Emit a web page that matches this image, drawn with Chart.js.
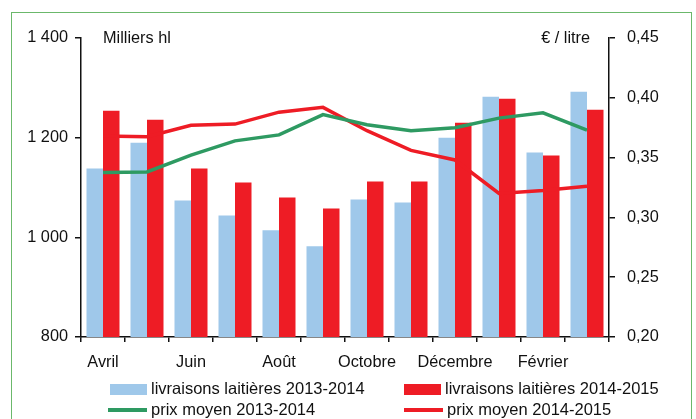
<!DOCTYPE html>
<html>
<head>
<meta charset="utf-8">
<script src="https://cdn.jsdelivr.net/npm/chart.js@4"></script>
<style>
  html, body { margin: 0; padding: 0; background: #fff; }
  #wrap { position: relative; width: 696px; height: 419px; overflow: hidden; font-family: "Liberation Sans", Arial, sans-serif; }
  #frame { position: absolute; left: 11px; top: 12px; width: 681px; height: 430px; border: 1.5px solid #6bb86b; box-sizing: border-box; }
  #chart { position: absolute; left: 0; top: 0; }
  .leg { position: absolute; font-size: 16.5px; color: #111; white-space: nowrap; }
  .sw { position: absolute; }
</style>
</head>
<body>
<div id="wrap">
  <div id="frame"></div>
  <canvas id="chart" width="696" height="419"></canvas>
  <div id="legend"></div>
</div>
<script>
// Mois (campagne avril - mars)
const months = ['Avril', 'Mai', 'Juin', 'Juillet', 'Août', 'Septembre', 'Octobre', 'Novembre', 'Décembre', 'Janvier', 'Février', 'Mars'];

// Livraisons laitières (milliers hl)
const livraisons2013 = [1138, 1190, 1074, 1044, 1014, 982, 1076, 1070, 1200, 1282, 1170, 1292];
const livraisons2014 = [1254, 1236, 1138, 1110, 1080, 1058, 1112, 1112, 1230, 1278, 1164, 1256];

// Prix moyen (€ / litre)
const prix2013 = [0.3375, 0.338, 0.352, 0.364, 0.369, 0.386, 0.3775, 0.3725, 0.375, 0.383, 0.3875, 0.373];
const prix2014 = [0.368, 0.3675, 0.377, 0.378, 0.388, 0.392, 0.3725, 0.356, 0.348, 0.320, 0.3225, 0.326];

const leftTicks = [800, 1000, 1200, 1400];
const rightTicks = [0.20, 0.25, 0.30, 0.35, 0.40, 0.45];

const BLUE = '#9fc8ea';
const RED = '#ee1c25';
const GREEN = '#2e9a62';
const FONT = { family: '"Liberation Sans", Arial, sans-serif', size: 16.3 };

Chart.defaults.color = '#111';
Chart.defaults.font = FONT;

// textes des unités en haut du graphique
const unitLabels = {
    id: 'unitLabels',
    afterDraw(chart) {
        const { ctx, chartArea } = chart;
        ctx.save();
        ctx.font = '16.3px "Liberation Sans", Arial, sans-serif';
        ctx.fillStyle = '#111';
        ctx.textBaseline = 'middle';
        ctx.textAlign = 'left';
        ctx.fillText('Milliers hl', chartArea.left + 22, chartArea.top + 1);
        ctx.textAlign = 'right';
        ctx.fillText('€ / litre', chartArea.right - 19, chartArea.top + 1);
        ctx.restore();
    }
};

const chart = new Chart(document.getElementById('chart'), {
    data: {
        labels: months,
        datasets: [
            { type: 'line', label: 'prix moyen 2013-2014', data: prix2013, yAxisID: 'y1', borderColor: GREEN, borderWidth: 3.5, pointRadius: 0, tension: 0, order: 0 },
            { type: 'line', label: 'prix moyen 2014-2015', data: prix2014, yAxisID: 'y1', borderColor: RED, borderWidth: 3.5, pointRadius: 0, tension: 0, order: 0 },
            { type: 'bar', label: 'livraisons laitières 2013-2014', data: livraisons2013, yAxisID: 'y', backgroundColor: BLUE, categoryPercentage: 0.75, barPercentage: 1, order: 1 },
            { type: 'bar', label: 'livraisons laitières 2014-2015', data: livraisons2014, yAxisID: 'y', backgroundColor: RED, categoryPercentage: 0.75, barPercentage: 1, order: 1 }
        ]
    },
    options: {
        responsive: false,
        animation: false,
        layout: { padding: { top: 38, left: 0, right: 0, bottom: 0 } },
        plugins: { legend: { display: false }, tooltip: { enabled: false } },
        scales: {
            x: {
                offset: true,
                grid: { offset: true, drawOnChartArea: false, tickLength: 5, color: '#111', lineWidth: 1.5 },
                border: { color: '#111', width: 1.5 },
                ticks: {
                    autoSkip: false, maxRotation: 0, padding: 11,
                    callback: (v, i) => (i % 2 === 0 ? months[i] : '')
                },
                afterFit: (s) => { s.height = 82; }
            },
            y: {
                position: 'left', min: 800, max: 1400,
                grid: { drawOnChartArea: false, tickLength: 6, color: '#111', lineWidth: 1.5 },
                border: { color: '#111', width: 1.5 },
                afterBuildTicks: (s) => { s.ticks = leftTicks.map(v => ({ value: v })); },
                ticks: {
                    padding: 7,
                    callback: (v) => v >= 1000 ? String(v).replace(/^(\d)(\d{3})$/, '$1 $2') : String(v)
                },
                afterFit: (s) => { s.width = 81; }
            },
            y1: {
                position: 'right', min: 0.20, max: 0.45,
                grid: { drawOnChartArea: false, tickLength: 6, color: '#111', lineWidth: 1.5 },
                border: { color: '#111', width: 1.5 },
                afterBuildTicks: (s) => { s.ticks = rightTicks.map(v => ({ value: v })); },
                ticks: {
                    padding: 12,
                    callback: (v) => v.toFixed(2).replace('.', ',')
                },
                afterFit: (s) => { s.width = 87; }
            }
        }
    },
    plugins: [unitLabels]
});

// légende HTML en deux colonnes
const legendItems = [
    { label: chart.data.datasets[2].label, color: BLUE, kind: 'box', x: 110, y: 389 },
    { label: chart.data.datasets[3].label, color: RED, kind: 'box', x: 404, y: 389 },
    { label: chart.data.datasets[0].label, color: GREEN, kind: 'line', x: 108, y: 410 },
    { label: chart.data.datasets[1].label, color: RED, kind: 'line', x: 404, y: 410 }
];
const legendEl = document.getElementById('legend');
for (const item of legendItems) {
    const sw = document.createElement('div');
    sw.className = 'sw';
    const w = item.kind === 'box' ? 37 : 39;
    const h = item.kind === 'box' ? 11 : 4;
    sw.style.cssText = `left:${item.x}px;top:${item.y - h / 2}px;width:${w}px;height:${h}px;background:${item.color}`;
    legendEl.appendChild(sw);
    const t = document.createElement('div');
    t.className = 'leg';
    t.textContent = item.label;
    t.style.left = (item.x + w + 4) + 'px';
    t.style.top = (item.y - 10) + 'px';
    legendEl.appendChild(t);
}
</script>
</body>
</html>
